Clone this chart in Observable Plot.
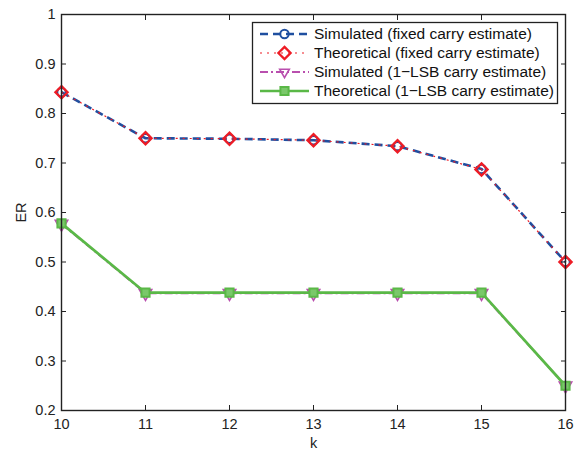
<!DOCTYPE html>
<html>
<head>
<meta charset="utf-8">
<script src="https://cdn.jsdelivr.net/npm/d3@7"></script>
<script src="https://cdn.jsdelivr.net/npm/@observablehq/plot@0.6"></script>
<style>
  html, body { margin: 0; padding: 0; background: #fff; }
  #chart { position: relative; width: 575px; height: 456px; font-family: "Liberation Sans", Arial, sans-serif; }
  #legend { position: absolute; left: 0; top: 0; pointer-events: none; }
</style>
</head>
<body>
<div id="chart"></div>
<script>
// ---- data ----
const kValues = [10, 11, 12, 13, 14, 15, 16];
const simFixed  = [0.843, 0.750, 0.749, 0.746, 0.734, 0.688, 0.500];
const theoFixed = [0.843, 0.750, 0.749, 0.746, 0.734, 0.687, 0.500];
const simLSB    = [0.577, 0.437, 0.437, 0.437, 0.437, 0.437, 0.250];
const theoLSB   = [0.578, 0.438, 0.438, 0.438, 0.438, 0.438, 0.250];
const seriesNames = [
  "Simulated (fixed carry estimate)",
  "Theoretical (fixed carry estimate)",
  "Simulated (1\u2212LSB carry estimate)",
  "Theoretical (1\u2212LSB carry estimate)"
];
const xTicks = [10, 11, 12, 13, 14, 15, 16];
const yTicks = [0.2, 0.3, 0.4, 0.5, 0.6, 0.7, 0.8, 0.9, 1];

// ---- styles ----
const styles = [
  {color: "#1f4fa0", width: 2.6, dash: "8,5", symbol: "circle", r: 4.2, fill: "none", sw: 2, rotate: 0},
  {color: "#ee1c25", width: 1.2, dash: "2,5", symbol: "diamond2", r: 5.5, fill: "none", sw: 2.3, rotate: 0},
  {color: "#b94fae", width: 2.0, dash: "8,3,2,3", symbol: "triangle", r: 4.6, fill: "none", sw: 1.6, rotate: 180},
  {color: "#5ab847", width: 2.7, dash: null, symbol: "square", r: 4.6, fill: "#7ac86a", sw: 2, rotate: 0}
];
const seriesValues = [simFixed, theoFixed, simLSB, theoLSB];
const tables = seriesValues.map(vals => kValues.map((k, i) => ({k, v: vals[i]})));

const marks = [];
tables.forEach((data, s) => {
  const st = styles[s];
  marks.push(Plot.line(data, {x: "k", y: "v", stroke: st.color, strokeWidth: st.width, strokeDasharray: st.dash, strokeLinecap: "butt"}));
  marks.push(Plot.dot(data, {x: "k", y: "v", symbol: st.symbol, r: st.r, stroke: st.color, fill: st.fill, strokeWidth: st.sw, rotate: st.rotate}));
});

const fmt = d => d === 1 ? "1" : d3.format(".1f")(d);

const plot = Plot.plot({
  width: 575,
  height: 456,
  marginLeft: 61,
  marginRight: 10,
  marginTop: 14,
  marginBottom: 46,
  style: {fontFamily: "Liberation Sans, Arial, sans-serif", fontSize: "14.5px", color: "#222", background: "#fff"},
  x: {domain: [10, 16], ticks: xTicks},
  y: {domain: [0.2, 1], ticks: yTicks},
  marks: [
    ...marks,
    Plot.frame({stroke: "#222", strokeWidth: 1.4}),
    Plot.axisX(xTicks, {anchor: "bottom", tickSize: -5, tickPadding: 13, label: "k", labelAnchor: "center", labelArrow: "none", labelOffset: 37, stroke: "#222", fill: "#222", fontSize: 14.5}),
    Plot.axisX(xTicks, {anchor: "top", tickSize: -5, tickFormat: () => "", label: null, stroke: "#222"}),
    Plot.axisY(yTicks, {anchor: "left", tickSize: -5, tickPadding: 11, tickFormat: fmt, label: "ER", labelAnchor: "center", labelArrow: "none", labelOffset: 46, stroke: "#222", fill: "#222", fontSize: 14.5}),
    Plot.axisY(yTicks, {anchor: "right", tickSize: -5, tickFormat: () => "", label: null, stroke: "#222"})
  ]
});

const chart = document.getElementById("chart");
chart.appendChild(plot);

// ---- legend (overlay) ----
const lg = d3.select(chart).append("svg")
  .attr("id", "legend").attr("width", 575).attr("height", 456);
lg.append("rect").attr("x", 252.5).attr("y", 22.5).attr("width", 305).attr("height", 81)
  .attr("fill", "#fff").attr("stroke", "#222").attr("stroke-width", 1.3);
seriesNames.forEach((name, i) => {
  const st = styles[i];
  const y = 34 + i * 19;
  const g = lg.append("g");
  g.append("line").attr("x1", 260).attr("x2", 309).attr("y1", y).attr("y2", y)
    .attr("stroke", st.color).attr("stroke-width", st.width)
    .attr("stroke-dasharray", st.dash);
  const sym = {circle: d3.symbolCircle, diamond2: d3.symbolDiamond2, triangle: d3.symbolTriangle2, square: d3.symbolSquare}[st.symbol];
  g.append("path").attr("d", d3.symbol(sym, Math.PI * st.r * st.r)())
    .attr("transform", `translate(284.5,${y}) rotate(${st.rotate})`)
    .attr("fill", st.fill === "none" ? "none" : st.fill).attr("stroke", st.color).attr("stroke-width", st.sw);
  g.append("text").attr("x", 314).attr("y", y).attr("dy", "0.35em")
    .attr("font-family", "Liberation Sans, Arial, sans-serif").attr("font-size", 15.5).attr("fill", "#111")
    .text(name);
});
</script>
</body>
</html>
